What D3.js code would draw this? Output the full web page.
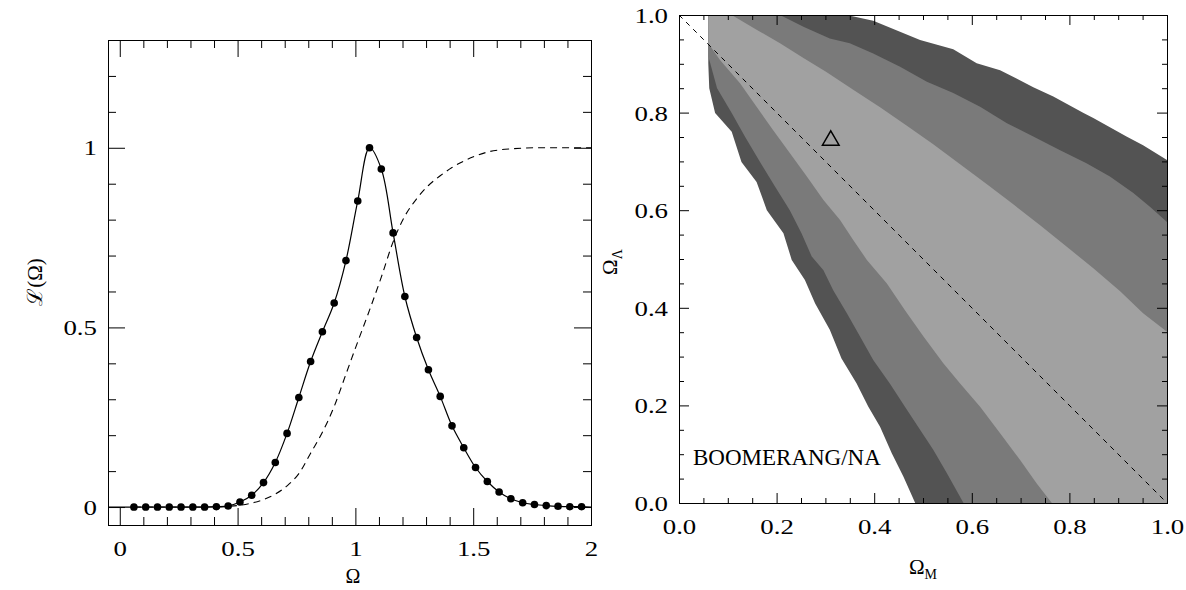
<!DOCTYPE html>
<html><head><meta charset="utf-8">
<script src="https://cdn.jsdelivr.net/npm/d3@7"></script>
<style>
body{margin:0;background:#fff;}
svg{display:block;}
text{font-family:"Liberation Serif","DejaVu Serif",serif;fill:#000;}
</style></head><body>
<svg id="fig" width="1186" height="590"></svg>
<script>
// ---- Left panel: marginalised likelihood of Omega ----
const omega = [0.06,0.11,0.16,0.21,0.26,0.31,0.36,0.41,0.46,0.51,0.56,0.61,0.66,0.71,0.76,0.81,0.86,0.91,0.96,1.01,
               1.06,1.11,1.16,1.21,1.26,1.31,1.36,1.41,1.46,1.51,1.56,1.61,1.66,1.71,1.76,1.81,1.86,1.91,1.96];
const likelihood = [0,0,0,0,0,0,0,0.001,0.003,0.014,0.033,0.068,0.124,0.205,0.305,0.405,0.488,0.568,0.686,0.852,
                    1.0,0.941,0.763,0.586,0.472,0.382,0.308,0.226,0.165,0.110,0.071,0.042,0.023,0.012,0.007,0.004,0.002,0.001,0.001];
const likelihoodTails = [[-0.05,0],[2.0,0]];
const cumOmega = [0.06,0.41,0.46,0.51,0.56,0.61,0.66,0.71,0.76,0.81,0.86,0.91,0.96,1.01,1.06,1.11,1.16,1.21,1.26,1.31,
                  1.36,1.41,1.46,1.51,1.56,1.61,1.66,1.71,1.76,2.0];
const cumulative = [0,0,0.002,0.005,0.011,0.021,0.036,0.059,0.093,0.150,0.208,0.280,0.370,0.460,0.548,0.640,0.738,0.810,0.858,0.895,
                    0.922,0.945,0.963,0.977,0.988,0.994,0.997,0.999,1.0,1.0];
const leftXMajor = [0,0.5,1,1.5,2];
const leftXMinor = [0.1,0.2,0.3,0.4,0.6,0.7,0.8,0.9,1.1,1.2,1.3,1.4,1.6,1.7,1.8,1.9];
const leftYMajor = [0,0.5,1];
const leftYMinor = [0.1,0.2,0.3,0.4,0.6,0.7,0.8,0.9,1.1,1.2];

// ---- Right panel: confidence regions in the (Omega_M, Omega_Lambda) plane ----
const rightMajor = [0,0.2,0.4,0.6,0.8,1.0];
const rightMinor = [0.05,0.1,0.15,0.25,0.3,0.35,0.45,0.5,0.55,0.65,0.7,0.75,0.85,0.9,0.95];
const contourOuter = [[0.060,1.000],[0.344,1.000],[0.398,0.988],[0.494,0.949],[0.562,0.930],[0.610,0.901],[0.658,0.887],
  [0.726,0.852],[0.767,0.833],[0.829,0.799],[0.849,0.789],[0.917,0.751],[0.951,0.733],[1.000,0.703],[1.000,0.000],
  [0.484,0.000],[0.460,0.054],[0.436,0.102],[0.412,0.156],[0.388,0.197],[0.364,0.245],[0.333,0.296],[0.309,0.355],
  [0.279,0.409],[0.258,0.457],[0.231,0.498],[0.214,0.553],[0.180,0.600],[0.159,0.658],[0.128,0.699],[0.108,0.761],
  [0.074,0.799],[0.062,0.850],[0.060,0.901]];
const contourMiddle = [[0.060,1.000],[0.207,1.000],[0.255,0.976],[0.309,0.952],[0.350,0.942],[0.398,0.921],[0.453,0.894],
  [0.508,0.863],[0.562,0.840],[0.617,0.812],[0.672,0.778],[0.726,0.751],[0.781,0.723],[0.835,0.696],[0.883,0.669],
  [0.931,0.635],[0.965,0.607],[1.000,0.576],[1.000,0.000],[0.583,0.000],[0.549,0.061],[0.521,0.109],[0.494,0.150],
  [0.463,0.197],[0.432,0.245],[0.398,0.293],[0.371,0.341],[0.344,0.389],[0.316,0.436],[0.296,0.477],[0.272,0.505],
  [0.251,0.553],[0.227,0.600],[0.197,0.648],[0.166,0.699],[0.135,0.751],[0.108,0.799],[0.078,0.850],[0.064,0.901],
  [0.060,0.915]];
const contourInner = [[0.060,1.000],[0.108,1.000],[0.159,0.970],[0.207,0.942],[0.255,0.912],[0.302,0.883],[0.357,0.847],
  [0.412,0.811],[0.467,0.773],[0.521,0.735],[0.576,0.694],[0.631,0.653],[0.685,0.612],[0.740,0.569],[0.801,0.520],
  [0.849,0.481],[0.904,0.434],[0.951,0.389],[1.000,0.351],[1.000,0.000],[0.764,0.000],[0.733,0.040],[0.699,0.088],
  [0.658,0.143],[0.617,0.197],[0.576,0.245],[0.542,0.286],[0.501,0.341],[0.463,0.395],[0.426,0.450],[0.385,0.498],
  [0.357,0.539],[0.330,0.580],[0.296,0.621],[0.262,0.669],[0.227,0.717],[0.193,0.764],[0.159,0.812],[0.125,0.860],
  [0.084,0.908],[0.060,0.942]];
const flatUniverse = [[0,1],[1,0]];
const modelPoint = [0.311,0.743];
const panelLabel = "BOOMERANG/NA";

const svg = d3.select("#fig");

// Box with inward ticks on all four sides, IDL style
function drawBox(g, x, y, o) {
  const [x0, x1] = x.range();
  const [y1, y0] = y.range();
  const sides = [
    {fn: d3.axisBottom, s: x, t: `translate(0,${y1})`, maj: o.xMajor, min: o.xMinor, lab: true},
    {fn: d3.axisTop,    s: x, t: `translate(0,${y0})`, maj: o.xMajor, min: o.xMinor, lab: false},
    {fn: d3.axisLeft,   s: y, t: `translate(${x0},0)`, maj: o.yMajor, min: o.yMinor, lab: true},
    {fn: d3.axisRight,  s: y, t: `translate(${x1},0)`, maj: o.yMajor, min: o.yMinor, lab: false}
  ];
  sides.forEach(sd => {
    g.append("g").attr("transform", sd.t)
      .call(sd.fn(sd.s).tickValues(sd.min).tickSizeInner(-o.minor).tickSizeOuter(0).tickFormat(""))
      .call(a => a.select(".domain").remove());
    const isX = sd.s === x;
    const ax = g.append("g").attr("transform", sd.t)
      .call(sd.fn(sd.s).tickValues(sd.maj).tickSizeInner(-o.major).tickSizeOuter(0)
            .tickFormat(sd.lab ? (isX ? o.xFmt : o.yFmt) : ""))
      .call(a => a.select(".domain").remove())
      .attr("font-family", null).attr("font-size", null);
    if (sd.lab) {
      const tx = ax.selectAll(".tick text")
        .style("font-size", o.fontSize + "px")
        .style("font-family", "Liberation Serif")
        .attr("transform", `scale(${o.stretch},1)`);
      if (isX) tx.attr("y", o.xPad).attr("dy", "0.71em");
      else tx.attr("x", -o.yPad / o.stretch).attr("dy", "0.34em");
    }
  });
  g.append("rect").attr("x", x0 + 0.5).attr("y", y0 + 0.5)
    .attr("width", x1 - x0).attr("height", y1 - y0)
    .attr("fill", "none").attr("stroke", "#000").attr("stroke-width", 1);
}

// ---------- Left panel ----------
const L = {x0: 108, x1: 591, y0: 40, y1: 525};
const xL = d3.scaleLinear().domain([-0.05, 2]).range([L.x0, L.x1]);
const yL = d3.scaleLinear().domain([-0.05, 1.3]).range([L.y1, L.y0]);
const gL = svg.append("g");

const pts = omega.map((o, i) => [o, likelihood[i]]);
const fitPts = [likelihoodTails[0], ...pts, likelihoodTails[1]];

gL.append("path")
  .attr("d", d3.line().x(d => xL(d[0])).y(d => yL(d[1])).curve(d3.curveMonotoneX)(cumOmega.map((o, i) => [o, cumulative[i]])))
  .attr("fill", "none").attr("stroke", "#000").attr("stroke-width", 1.1).attr("stroke-dasharray", "7,5");

gL.append("path")
  .attr("d", d3.line().x(d => xL(d[0])).y(d => yL(d[1])).curve(d3.curveCatmullRom.alpha(0.5))(fitPts))
  .attr("fill", "none").attr("stroke", "#000").attr("stroke-width", 1.2);

gL.selectAll("circle").data(pts).join("circle")
  .attr("cx", d => xL(d[0])).attr("cy", d => yL(d[1])).attr("r", 3.8).attr("fill", "#000");

drawBox(gL, xL, yL, {
  xMajor: leftXMajor, xMinor: leftXMinor, yMajor: leftYMajor, yMinor: leftYMinor,
  major: 17, minor: 8, xFmt: d3.format(""), yFmt: d3.format(""),
  fontSize: 21, stretch: 1.28, xPad: 16, yPad: 11
});

gL.append("text").attr("x", 353).attr("y", 583).attr("text-anchor", "middle")
  .style("font-size", "20px").text("Ω");
gL.append("text").attr("transform", "translate(42,282) rotate(-90)").attr("text-anchor", "middle")
  .style("font-size", "21px").text("ℒ(Ω)");

// ---------- Right panel ----------
const R = {x0: 679, x1: 1167, y0: 15, y1: 503};
const xR = d3.scaleLinear().domain([0, 1]).range([R.x0, R.x1]);
const yR = d3.scaleLinear().domain([0, 1]).range([R.y1, R.y0]);
const gR = svg.append("g");
const ring = d3.line().x(d => xR(d[0])).y(d => yR(d[1]));

[[contourOuter, "#535353"], [contourMiddle, "#7a7a7a"], [contourInner, "#a1a1a1"]].forEach(([c, col]) => {
  gR.append("path").attr("d", ring(c) + "Z").attr("fill", col).attr("stroke", "none");
});

gR.append("path").attr("d", ring(flatUniverse))
  .attr("fill", "none").attr("stroke", "#000").attr("stroke-width", 1).attr("stroke-dasharray", "5,5");

gR.append("path")
  .attr("transform", `translate(${xR(modelPoint[0])},${yR(modelPoint[1])})`)
  .attr("d", d3.symbol(d3.symbolTriangle, 120)())
  .attr("fill", "none").attr("stroke", "#000").attr("stroke-width", 1.5);

gR.append("text").attr("x", 693).attr("y", 465).style("font-size", "23px").text(panelLabel);

drawBox(gR, xR, yR, {
  xMajor: rightMajor, xMinor: rightMinor, yMajor: rightMajor, yMinor: rightMinor,
  major: 10, minor: 5, xFmt: d3.format(".1f"), yFmt: d3.format(".1f"),
  fontSize: 22, stretch: 1.22, xPad: 15, yPad: 11
});

const tM = gR.append("text").attr("x", 923).attr("y", 574).attr("text-anchor", "middle").style("font-size", "21px");
tM.append("tspan").text("Ω");
tM.append("tspan").attr("dy", 5).style("font-size", "14px").text("M");

const tL = gR.append("text").attr("transform", "translate(617,262) rotate(-90)").attr("text-anchor", "middle").style("font-size", "21px");
tL.append("tspan").text("Ω");
tL.append("tspan").attr("dy", 5).style("font-size", "14px").text("Λ");
</script>
</body></html>
